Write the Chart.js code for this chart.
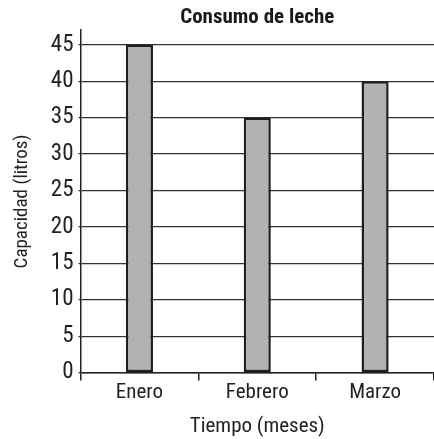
<!DOCTYPE html>
<html>
<head>
<meta charset="utf-8">
<script src="https://cdn.jsdelivr.net/npm/chart.js@4/dist/chart.umd.min.js"></script>
<style>
  html, body { margin: 0; padding: 0; background: #fff; }
  #wrap { width: 434px; height: 439px; }
</style>
</head>
<body>
<div id="wrap"><canvas id="chart"></canvas></div>
<script>
const meses = ["Enero", "Febrero", "Marzo"]
const litros = [45, 35, 40]
const yTicks = [0, 5, 10, 15, 20, 25, 30, 35, 40, 45]

const fontFam = "'Liberation Sans Narrow', 'Roboto Condensed', 'DejaVu Sans Condensed', sans-serif"
Chart.defaults.font.family = fontFam
Chart.defaults.color = "#222"

const chart = new Chart(document.getElementById("chart"), {
     type: "bar",
     data: {
          labels: meses,
          datasets: [{
               label: "Consumo",
               data: litros,
               backgroundColor: "#b1b2b4",
               borderColor: "#1e1e1e",
               borderWidth: 2.5,
               borderSkipped: false,
               barPercentage: 0.23,
               categoryPercentage: 1
          }]
     },
     options: {
          responsive: true,
          maintainAspectRatio: false,
          animation: false,
          layout: { padding: { top: 5, right: 0, left: 11, bottom: 0 } },
          plugins: {
               legend: { display: false },
               tooltip: { enabled: false },
               title: {
                    display: true,
                    text: "Consumo de leche",
                    fullSize: false,
                    color: "#1a1a1a",
                    font: { size: 21, weight: "bold" },
                    padding: { top: 0, bottom: 0 }
               }
          },
          scales: {
               x: {
                    offset: true,
                    grid: {
                         offset: true,
                         drawOnChartArea: false,
                         drawTicks: true,
                         tickLength: 8,
                         color: "#222",
                         lineWidth: 1.5
                    },
                    border: { display: true, color: "#222", width: 1.5 },
                    ticks: { font: { size: 21 }, color: "#222", padding: 0 },
                    title: {
                         display: true,
                         text: "Tiempo (meses)",
                         font: { size: 21 },
                         color: "#222",
                         padding: { top: 8, bottom: 0 }
                    }
               },
               y: {
                    min: 0,
                    max: 47,
                    afterBuildTicks: function (axis) {
                         axis.ticks = yTicks.map(function (v) { return { value: v } })
                    },
                    grid: {
                         color: "#333",
                         lineWidth: 1.3,
                         tickLength: 2
                    },
                    border: { display: true, color: "#222", width: 1.5 },
                    ticks: { font: { size: 23 }, color: "#222", padding: 5 },
                    title: {
                         display: true,
                         text: "Capacidad (litros)",
                         font: { size: 19 },
                         color: "#222",
                         padding: { top: 0, bottom: 12 }
                    }
               }
          }
     }
})
</script>
</body>
</html>
